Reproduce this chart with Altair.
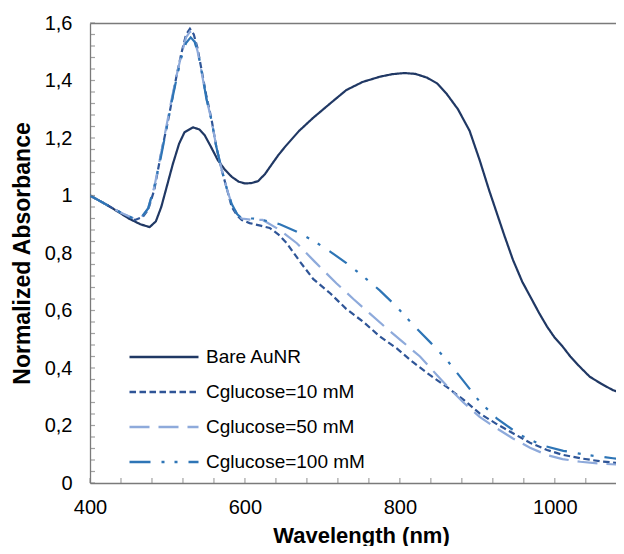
import altair as alt
import pandas as pd

# ---------------- data ----------------
series_names = ["Bare AuNR", "Cglucose=10 mM", "Cglucose=50 mM", "Cglucose=100 mM"]
series_colors = ["#203864", "#2f5597", "#8eaadb", "#2e75b6"]
series_dashes = [[1, 0], [6.5, 3.5], [20, 9], [21, 11, 3, 10, 3, 11]]

bare_x = [400, 420, 436, 450, 465, 477, 485, 492, 500, 507, 515, 522, 533, 541, 548, 556,
          565, 574, 583, 592, 600, 608, 617, 626, 634, 643, 652, 670, 688, 710, 731, 752,
          774, 790, 806, 820, 835, 848, 860, 875, 890, 903, 915, 925, 935, 946, 958, 970,
          980, 990, 1000, 1010, 1020, 1032, 1045, 1060, 1075, 1090, 1100]
bare_y = [1.00, 0.97, 0.944, 0.92, 0.90, 0.89, 0.91, 0.96, 1.04, 1.11, 1.18, 1.22, 1.237, 1.23, 1.21, 1.17,
          1.123, 1.09, 1.065, 1.048, 1.042, 1.043, 1.05, 1.075, 1.106, 1.14, 1.17, 1.225, 1.27, 1.32, 1.367, 1.395,
          1.413, 1.422, 1.426, 1.423, 1.41, 1.39, 1.355, 1.30, 1.225, 1.123, 1.02, 0.94, 0.86, 0.776, 0.70, 0.64,
          0.59, 0.544, 0.505, 0.475, 0.44, 0.405, 0.37, 0.345, 0.323, 0.31, 0.30]

g10_x = [400, 420, 440, 458, 468, 475, 483, 492, 500, 505, 512, 518, 524, 529, 534, 539, 544, 550,
         557, 563, 570, 577, 583, 590, 596, 606, 620, 632, 643, 654, 671, 688, 710, 731, 753, 774,
         796, 817, 839, 860, 882, 903, 925, 946, 968, 990, 1010, 1033, 1060, 1088, 1100]
g10_y = [1.00, 0.97, 0.94, 0.915, 0.925, 0.95, 1.02, 1.15, 1.25, 1.32, 1.42, 1.495, 1.56, 1.58, 1.56, 1.51, 1.437, 1.35,
         1.263, 1.17, 1.089, 1.02, 0.96, 0.93, 0.915, 0.904, 0.895, 0.887, 0.865, 0.834, 0.77, 0.71, 0.66, 0.605, 0.56, 0.51,
         0.468, 0.42, 0.375, 0.335, 0.29, 0.242, 0.205, 0.173, 0.14, 0.115, 0.098, 0.086, 0.075, 0.068, 0.066]

g50_x = [400, 420, 440, 458, 468, 475, 483, 492, 500, 505, 512, 518, 524, 529, 534, 539, 544, 550,
         557, 563, 570, 577, 583, 590, 596, 610, 623, 645, 667, 690, 718, 740, 761, 782, 804, 826,
         848, 860, 882, 903, 925, 946, 968, 990, 1010, 1033, 1060, 1088, 1100]
g50_y = [1.00, 0.97, 0.94, 0.918, 0.93, 0.955, 1.03, 1.15, 1.26, 1.33, 1.42, 1.49, 1.55, 1.57, 1.55, 1.50, 1.43, 1.34,
         1.26, 1.17, 1.09, 1.02, 0.97, 0.935, 0.92, 0.915, 0.915, 0.88, 0.834, 0.77, 0.695, 0.64, 0.59, 0.54, 0.49, 0.44,
         0.375, 0.34, 0.28, 0.23, 0.19, 0.155, 0.123, 0.097, 0.083, 0.074, 0.067, 0.063, 0.062]

g100_x = [400, 420, 440, 458, 468, 475, 483, 492, 500, 505, 512, 518, 524, 530, 535, 540, 545, 550,
          557, 563, 570, 577, 583, 590, 596, 610, 623, 645, 667, 690, 710, 731, 753, 774, 796, 817,
          839, 860, 882, 903, 925, 955, 985, 1011, 1040, 1075, 1100]
g100_y = [1.00, 0.97, 0.94, 0.918, 0.93, 0.955, 1.03, 1.14, 1.25, 1.32, 1.41, 1.48, 1.53, 1.55, 1.535, 1.49, 1.42, 1.34,
          1.26, 1.17, 1.09, 1.02, 0.97, 0.935, 0.92, 0.92, 0.915, 0.90, 0.874, 0.84, 0.805, 0.765, 0.718, 0.67, 0.613, 0.55,
          0.49, 0.43, 0.355, 0.283, 0.225, 0.167, 0.13, 0.112, 0.098, 0.086, 0.078]

x_major_ticks = [400, 600, 800, 1000]
x_minor_ticks = [400, 440, 480, 520, 560, 600, 640, 680, 720, 760, 800, 840, 880, 920, 960, 1000, 1040]
y_major_ticks = [0, 0.2, 0.4, 0.6, 0.8, 1.0, 1.2, 1.4, 1.6]
y_minor_ticks = [round(i * 0.04, 2) for i in range(41)]

# ---------------- build tables ----------------
rows = []
for name, xs, ys in zip(series_names, [bare_x, g10_x, g50_x, g100_x], [bare_y, g10_y, g50_y, g100_y]):
    for i, (a, b) in enumerate(zip(xs, ys)):
        rows.append({"series": name, "wavelength": a, "absorbance": b, "order": i})
df = pd.DataFrame(rows)
df_xt = pd.DataFrame({"xt": x_minor_ticks})
df_yt = pd.DataFrame({"yt": y_minor_ticks})

W, H = 526, 460
FONT = "Liberation Sans"
AXIS_GRAY = "#7a7a7a"

xscale = alt.Scale(domain=[400, 1079], nice=False, zero=False)
yscale = alt.Scale(domain=[0, 1.6], nice=False, zero=False)

y_axis = alt.Axis(values=y_major_ticks, ticks=False, grid=False, labelFontSize=20,
                  labelPadding=18, labelColor="black", labelFont=FONT, labelFlush=False,
                  labelExpr="replace(format(datum.value, '.1~f'), '.', ',')",
                  domainColor=AXIS_GRAY, domainWidth=1.3,
                  title="Normalized Absorbance", titleFont=FONT, titleFontSize=23,
                  titleFontWeight="bold", titleColor="black",
                  titleX=-68, titleY=230, titleAngle=270, titleAlign="center",
                  titleBaseline="middle")

lines = alt.Chart(df).mark_line(strokeWidth=2.2, clip=True).encode(
    x=alt.X("wavelength:Q", scale=xscale,
            axis=alt.Axis(values=x_major_ticks, ticks=False, grid=False, labelFontSize=20,
                          labelPadding=14, labelColor="black", labelFont=FONT, format="d",
                          labelFlush=False,
                          domainColor=AXIS_GRAY, domainWidth=1.3,
                          title="Wavelength (nm)", titleFont=FONT, titleFontSize=22,
                          titleFontWeight="bold", titleColor="black",
                          titleX=271, titleY=59, titleAlign="center",
                          titleBaseline="alphabetic")),
    y=alt.Y("absorbance:Q", scale=yscale, axis=y_axis),
    color=alt.Color("series:N", scale=alt.Scale(domain=series_names, range=series_colors),
                    legend=alt.Legend(title=None, orient="none", legendX=38, legendY=324,
                                      symbolType="stroke", symbolSize=4761, symbolStrokeWidth=2.5,
                                      labelFontSize=19, labelFont=FONT, labelColor="black",
                                      labelOffset=6, clipHeight=20, rowPadding=15, padding=0)),
    strokeDash=alt.StrokeDash("series:N", scale=alt.Scale(domain=series_names, range=series_dashes)),
    order="order:Q",
    detail="series:N",
)

xticks = alt.Chart(df_xt).mark_tick(orient="vertical", size=5, thickness=1.2, color=AXIS_GRAY).encode(
    x=alt.X("xt:Q", scale=xscale,
            axis=alt.Axis(orient="top", labels=False, ticks=False, grid=False, title=None,
                          domainColor=AXIS_GRAY, domainWidth=1.3)),
    y=alt.value(H - 2.5),
)

yticks = alt.Chart(df_yt).mark_tick(orient="horizontal", size=5, thickness=1.2, color=AXIS_GRAY).encode(
    y=alt.Y("yt:Q", scale=yscale, axis=y_axis),
    x=alt.value(2.5),
)

chart = alt.layer(lines, xticks, yticks).resolve_axis(x="independent").properties(
    width=W, height=H,
    autosize=alt.AutoSizeParams(type="none"),
    padding={"left": 82, "top": 15, "right": 0, "bottom": 63},
    background="white",
).configure_view(stroke=None)

chart.save("out.html", embed_options={"renderer": "svg", "actions": False})
